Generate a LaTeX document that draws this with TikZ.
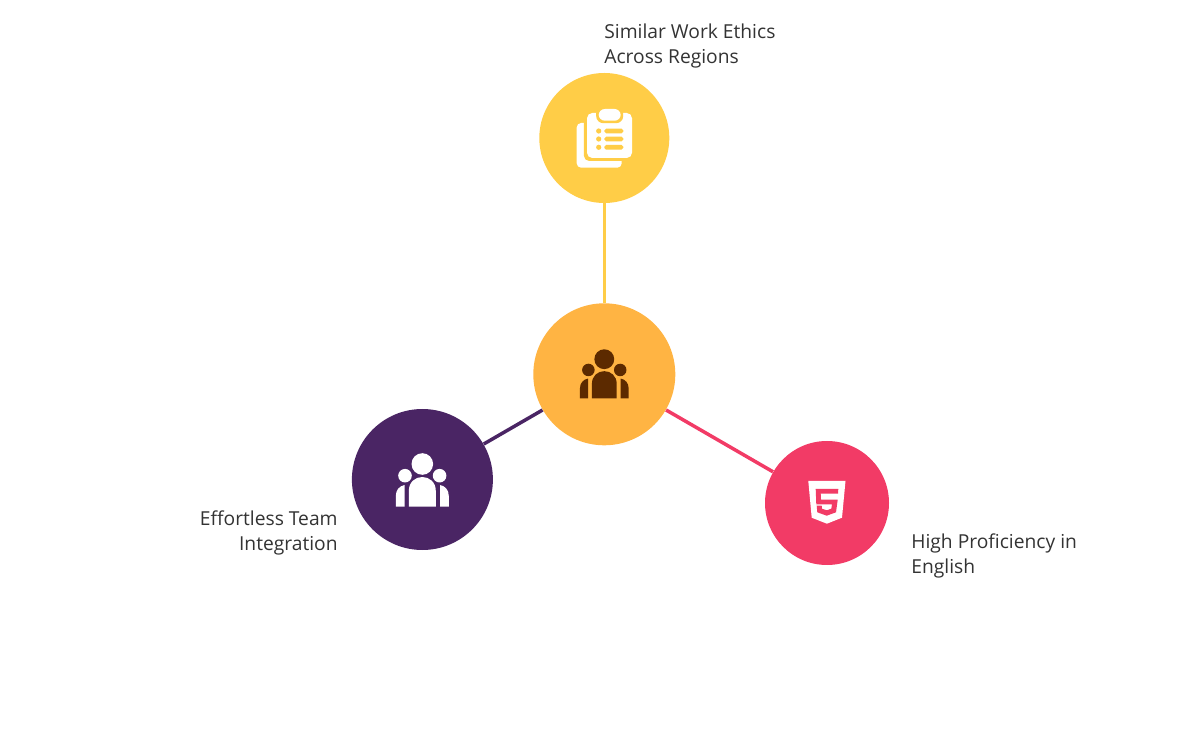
\documentclass[tikz,border=0pt]{standalone}
\usepackage{fontspec}
\setmainfont{Open Sans}
\usetikzlibrary{positioning}
\definecolor{sunyellow}{HTML}{FFCD47}
\definecolor{huborange}{HTML}{FFB443}
\definecolor{deeppurple}{HTML}{4A2564}
\definecolor{rosepink}{HTML}{F23B66}
\definecolor{darkbrown}{HTML}{5C2A00}
\definecolor{labelgray}{HTML}{333333}
\tikzset{
    bubble/.style={circle,inner sep=0pt,minimum size=#1*0.02cm},
    spoke/.style={line width=0.07cm},
    caption/.style={font=\fontsize{10.95}{14.2}\selectfont,text=labelgray,inner sep=0pt,align=left},
    people/.pic={
        \fill[pic actions] (0,-15) circle (10.8);
        \fill[pic actions] (-17.3,-3.3) circle (6.8);
        \fill[pic actions] (17.3,-3.3) circle (6.8);
        \fill[pic actions] (-13.5,27.7) -- (-13.5,12) .. controls (-13.5,3) and (-7,-2) .. (0,-2) .. controls (7,-2) and (13.5,3) .. (13.5,12) -- (13.5,27.7) -- cycle;
        \fill[pic actions] (-26.5,27.7) -- (-26.5,17) .. controls (-26.5,11) and (-23,7) .. (-17.7,6) -- (-17.7,27.7) -- cycle;
        \fill[pic actions] (26.5,27.7) -- (26.5,17) .. controls (26.5,11) and (23,7) .. (17.7,6) -- (17.7,27.7) -- cycle;
    }
}
\begin{document}
\begin{tikzpicture}[x=0.02cm,y=-0.02cm]
    \useasboundingbox (0,0) rectangle (1200,749);
    % four circles
    \node[bubble=130,fill=sunyellow] (ethics) at (604.3,138) {};
    \node[bubble=142,fill=huborange] (hub) at (604.3,374.3) {};
    \node[bubble=141,fill=deeppurple] (team) at (422.4,479.5) {};
    \node[bubble=124,fill=rosepink] (english) at (827,503) {};
    % spokes
    \draw[spoke,sunyellow] (ethics) -- (hub);
    \draw[spoke,deeppurple] (team) -- (hub);
    \draw[spoke,rosepink] (english) -- (hub);
    % people icons
    \pic[fill=darkbrown,scale=0.92] at (604.3,373) {people};
    \pic[fill=white] at (422.3,479) {people};
    % clipboard icon
    \fill[white,rounded corners=2.5] (576.7,123) rectangle (621.7,167.7);
    \fill[sunyellow,rounded corners=3] (583.9,110) rectangle (635,161);
    \fill[white,rounded corners=3] (587,113) rectangle (632,158);
    \fill[sunyellow,rounded corners=4] (596.2,106) rectangle (623.2,123.2);
    \fill[white,rounded corners=3.5] (598.7,109) rectangle (620.7,120.7);
    \foreach \rowy in {131,139,147.3} {
        \fill[sunyellow] (598.7,\rowy) circle (2.6);
        \fill[sunyellow,rounded corners=1] (604.3,\rowy-2.3) rectangle (623.3,\rowy+2.3);
    }
    % shield icon
    \fill[white] (808.3,481) -- (845.5,481) -- (842,517.7) -- (826.9,523.7) -- (811.7,517.7) -- cycle;
    \fill[rosepink] (815.7,489) -- (838.3,489) -- (838,493.7) -- (820.7,493.7) -- (821,499.7) -- (837.7,499.7) -- (836,512.3) -- (826.7,515.7) -- (817.3,512.3) -- (816.7,505.7) -- (821.7,505.7) -- (822,508.7) -- (826.7,510.3) -- (831.3,508.7) -- (832,504.3) -- (816.3,504.3) -- cycle;
    % labels
    \node[caption,anchor=north west] (ethicslabel) at (604,23.5) {Similar Work Ethics\\Across Regions};
    \node[caption,anchor=north east,align=right] (teamlabel) at (338,510.5) {Effortless Team\\Integration};
    \node[caption,anchor=north west] (englishlabel) at (911,533.5) {High Proficiency in\\English};
\end{tikzpicture}
\end{document}
